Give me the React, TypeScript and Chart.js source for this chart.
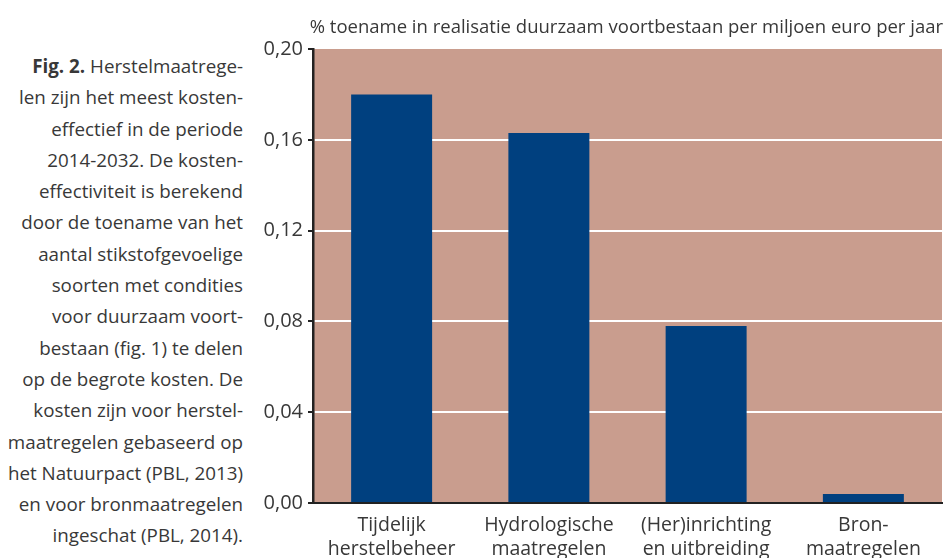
import React, { useEffect, useRef } from "react";
import { Chart, registerables } from "chart.js";

Chart.register(...registerables);

const categories: string[][] = [
  ["Tijdelijk", "herstelbeheer"],
  ["Hydrologische", "maatregelen"],
  ["(Her)inrichting", "en uitbreiding"],
  ["Bron-", "maatregelen"],
];
const values: number[] = [0.18, 0.163, 0.078, 0.004];
const yTicks: number[] = [0, 0.04, 0.08, 0.12, 0.16, 0.2];
const yTitle = "% toename in realisatie duurzaam voortbestaan per miljoen euro per jaar";
const captionLines: string[] = [
  "Herstelmaatrege-",
  "len zijn het meest kosten-",
  "effectief in de periode",
  "2014-2032. De kosten-",
  "effectiviteit is berekend",
  "door de toename van het",
  "aantal stikstofgevoelige",
  "soorten met condities",
  "voor duurzaam voort-",
  "bestaan (fig. 1) te delen",
  "op de begrote kosten. De",
  "kosten zijn voor herstel-",
  "maatregelen gebaseerd op",
  "het Natuurpact (PBL, 2013)",
  "en voor bronmaatregelen",
  "ingeschat (PBL, 2014).",
];

const FONT = '"Open Sans", "Noto Sans", sans-serif';
const TEXT = "#383838";

export default function App() {
  const ref = useRef<HTMLCanvasElement | null>(null);
  useEffect(() => {
    if (!ref.current) return;
    const bgPlugin = {
      id: "bg",
      beforeDraw(chart: any) {
        const { ctx, chartArea } = chart;
        ctx.save();
        ctx.fillStyle = "#c99d8e";
        ctx.fillRect(chartArea.left, chartArea.top, chartArea.right - chartArea.left, chartArea.bottom - chartArea.top);
        ctx.restore();
      },
      afterDraw(chart: any) {
        const { ctx } = chart;
        ctx.save();
        ctx.font = `18.5px ${FONT}`;
        ctx.fillStyle = TEXT;
        ctx.textAlign = "right";
        ctx.textBaseline = "middle";
        ctx.fillText(yTitle, 943, 28);
        ctx.restore();
      },
    };
    const chart = new Chart(ref.current, {
      type: "bar",
      data: {
        labels: categories,
        datasets: [
          {
            data: values,
            backgroundColor: "#00407f",
            barPercentage: 0.515,
            categoryPercentage: 1,
          },
        ],
      },
      options: {
        animation: false,
        responsive: false,
        layout: { padding: { left: 245, right: 3, top: 49, bottom: 0 } },
        plugins: { legend: { display: false }, tooltip: { enabled: false } },
        scales: {
          x: {
            afterFit(scale: any) {
              scale.height = 55;
            },
            grid: { display: false },
            border: { display: true, color: "#222", width: 2 },
            ticks: {
              color: TEXT,
              font: { family: FONT, size: 19.5, lineHeight: 1.22 },
              padding: 3,
              maxRotation: 0,
              autoSkip: false,
            },
          },
          y: {
            min: 0,
            max: 0.2,
            afterFit(scale: any) {
              scale.width = 68;
            },
            afterBuildTicks(scale: any) {
              scale.ticks = yTicks.map((v) => ({ value: v }));
            },
            grid: {
              color: (c: any) =>
                c.tick && (c.tick.value === 0 || c.tick.value >= 0.2) ? "rgba(0,0,0,0)" : "#ffffff",
              lineWidth: 2,
              tickColor: "#222",
              tickLength: 5,
            },
            border: { display: true, color: "#222", width: 2.5 },
            ticks: {
              color: TEXT,
              font: { family: FONT, size: 20 },
              padding: 5,
              callback: (v: any) => Number(v).toFixed(2).replace(".", ","),
            },
          },
        },
      },
      plugins: [bgPlugin],
    });
    return () => chart.destroy();
  }, []);

  return (
    <div style={{ position: "fixed", left: 0, top: 0, width: 945, height: 558, background: "#fff" }}>
      <div
        style={{
          position: "absolute",
          right: 945 - 243,
          top: 51,
          textAlign: "right",
          fontFamily: FONT,
          fontSize: 18.8,
          lineHeight: "31.3px",
          color: TEXT,
          whiteSpace: "nowrap",
        }}
      >
        {captionLines.map((l, i) => (
          <div key={i}>
            {i === 0 ? <b>Fig. 2. </b> : null}
            {l}
          </div>
        ))}
      </div>
      <canvas ref={ref} width={945} height={558} style={{ position: "absolute", left: 0, top: 0 }} />
    </div>
  );
}
